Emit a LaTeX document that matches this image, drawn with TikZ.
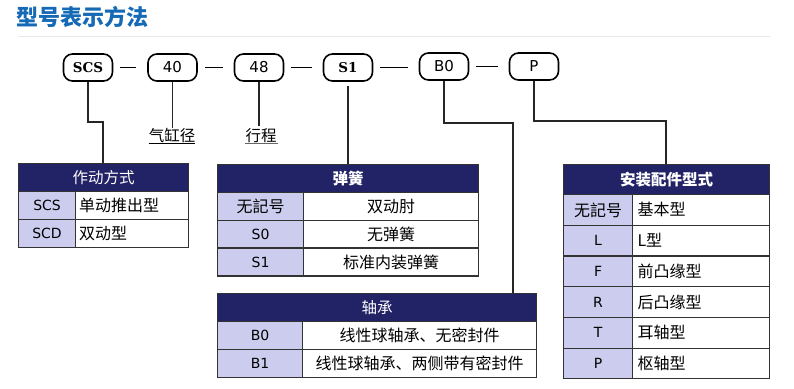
\documentclass[tikz,border=0pt]{standalone}
\usepackage{fontspec}
\setmainfont{DejaVu Sans}
\newfontfamily\cjk{Noto Sans CJK SC}
\newfontfamily\serifcode{DejaVu Serif}
\usetikzlibrary{positioning}
\definecolor{titleblue}{HTML}{1569B5}
\definecolor{headnavy}{HTML}{222266}
\definecolor{keylav}{HTML}{CCCCEE}
\definecolor{rulegray}{HTML}{E8E8E8}
\tikzset{
  codebox/.style={draw, line width=1.6pt, rounded corners=9pt, minimum width=49pt,
    minimum height=27pt, inner sep=0pt, font=\fontsize{15}{15}\selectfont},
  joiner/.style={line width=1.8pt},
  link/.style={line width=1.2pt, draw=black!85},
  cell/.style={draw=black!80, line width=1.1pt, inner sep=0pt, anchor=north west,
    font=\fontsize{14}{14}\selectfont},
  headcell/.style={cell, fill=headnavy, text=white, font=\cjk\fontsize{15.5}{15.5}\selectfont},
  keycell/.style={cell, fill=keylav},
  valcell/.style={cell, fill=white, font=\cjk\fontsize{16}{16}\selectfont},
  tag/.style={font=\cjk\fontsize{15.5}{15.5}\selectfont, inner sep=0pt}
}
\begin{document}
\begin{tikzpicture}[x=1pt,y=-1pt]
\useasboundingbox (0,0) rectangle (794,388);
% ---- title ----
\node[font=\cjk\bfseries\fontsize{22}{22}\selectfont, text=titleblue, anchor=west, inner sep=0pt] (title) at (16,17) {型号表示方法};
\draw[rulegray, line width=1pt] (18,36) -- (770,36);
% ---- model code boxes ----
\node[codebox, font=\serifcode\bfseries\fontsize{13.5}{13.5}\selectfont] (scs) at (88,67.5) {SCS};
\node[codebox] (bore) at (172.5,67.5) {40};
\node[codebox] (stroke) at (259,67.5) {48};
\node[codebox, font=\serifcode\bfseries\fontsize{13.5}{13.5}\selectfont] (spring) at (348,67.5) {S1};
\node[codebox] (bear) at (444,66.5) {B0};
\node[codebox] (mount) at (534,66.5) {P};
\foreach \a/\b in {scs/bore, bore/stroke, stroke/spring, spring/bear, bear/mount}{
  \draw[joiner] ([xshift=7pt]\a.east) -- ([xshift=-11pt]\b.west |- \a.east);
}
% ---- size labels ----
\node[tag, anchor=south] (borelbl) at (172,143) {气缸径};
\node[tag, anchor=south] (strokelbl) at (261,143) {行程};
\draw[line width=0.8pt] (borelbl.south west) -- (borelbl.south east);
\draw[line width=0.8pt, black!60] (strokelbl.south west) -- ([xshift=1pt]strokelbl.south east);
% ---- (1) action type ----
\node[headcell, minimum width=170pt, minimum height=28pt] (acthead) at (18,163) {作动方式};
\foreach \k/\v [count=\i from 0] in {SCS/单动推出型, SCD/双动型}{
  \node[keycell, minimum width=57pt, minimum height=28pt] (actk\i) at (18,191+28*\i) {\k};
  \node[valcell, minimum width=113pt, minimum height=28pt, text width=106pt, align=left] (actv\i) at (75,191+28*\i) {\v};
}
% ---- (2) spring ----
\node[headcell, minimum width=261pt, minimum height=28pt, font=\cjk\bfseries\fontsize{15.5}{15.5}\selectfont] (sprhead) at (217,164) {弹簧};
\foreach \k/\v [count=\i from 0] in {{\cjk\fontsize{16}{16}\selectfont 无記号}/双动肘, S0/无弹簧, S1/标准内装弹簧}{
  \node[keycell, minimum width=86pt, minimum height=28pt] (sprk\i) at (217,192+27.7*\i) {\k};
  \node[valcell, minimum width=175pt, minimum height=28pt] (sprv\i) at (303,192+27.7*\i) {\v};
}
% ---- (3) bearing ----
\node[headcell, minimum width=319pt, minimum height=28pt] (brghead) at (217,293) {轴承};
\foreach \k/\v [count=\i from 0] in {B0/线性球轴承、无密封件, B1/线性球轴承、两侧带有密封件}{
  \node[keycell, minimum width=85pt, minimum height=28pt] (brgk\i) at (217,321+28*\i) {\k};
  \node[valcell, minimum width=234pt, minimum height=28pt] (brgv\i) at (302,321+28*\i) {\v};
}
% ---- (4) mounting ----
\node[headcell, minimum width=206pt, minimum height=30pt, font=\cjk\bfseries\fontsize{15.5}{15.5}\selectfont] (mnthead) at (563,164) {安装配件型式};
\foreach \k/\v [count=\i from 0] in {{\cjk\fontsize{16}{16}\selectfont 无記号}/基本型, L/L型, F/前凸缘型, R/后凸缘型, T/耳轴型, P/枢轴型}{
  \node[keycell, minimum width=69pt, minimum height=30.7pt] (mntk\i) at (563,194+30.7*\i) {\k};
  \node[valcell, minimum width=137pt, minimum height=30.7pt, text width=127pt, align=left] (mntv\i) at (632,194+30.7*\i) {\v};
}
% ---- connectors ----
\draw[link] (scs.south) |- (103,122) -- (acthead.north -| 103,0);
\draw[link] (bore.south) -- (borelbl.north -| bore.south);
\draw[link] (stroke.south) -- ([yshift=2pt]strokelbl.north -| stroke.south);
\draw[link] ([yshift=-4pt]spring.south) -- (sprhead.north -| spring.south);
\draw[link] (bear.south) |- (513,123) -- (brghead.north -| 513,0);
\draw[link] (mount.south) |- (666,121) -- (mnthead.north -| 666,0);
\end{tikzpicture}
\end{document}
